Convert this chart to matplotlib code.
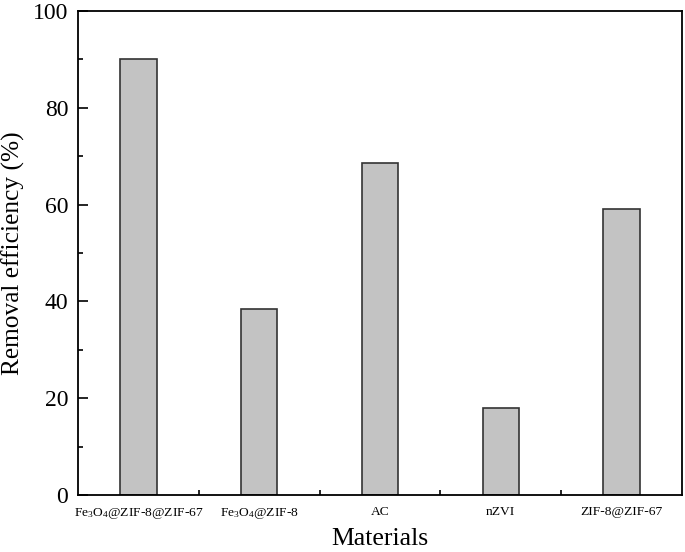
import matplotlib
matplotlib.use("Agg")
import matplotlib.pyplot as plt
from matplotlib.ticker import MultipleLocator, FixedLocator

plt.rcParams['font.family'] = ['Liberation Serif', 'DejaVu Serif']
plt.rcParams['mathtext.fontset'] = 'custom'
plt.rcParams['mathtext.rm'] = 'Liberation Serif'
plt.rcParams['mathtext.it'] = 'Liberation Serif:italic'

materials = ["Fe$_3$O$_4$@ZIF-8@ZIF-67", "Fe$_3$O$_4$@ZIF-8", "AC", "nZVI", "ZIF-8@ZIF-67"]
removal = [90.0, 38.4, 68.5, 18.0, 59.0]

fig = plt.figure(figsize=(6.85, 5.52), dpi=100)
ax = fig.add_axes([0.114, 0.1033, 0.8816, 0.8767])

x = list(range(len(materials)))
ax.bar(x, removal, width=0.3, color='#c3c3c3', edgecolor='#333333', linewidth=1.2, zorder=2)

ax.set_xlim(-0.5, len(materials) - 0.5)
ax.set_ylim(0, 100)
ax.set_xticks(x)
ax.set_xticklabels(materials, fontsize=9.7)
ax.xaxis.set_minor_locator(FixedLocator([i + 0.5 for i in range(len(materials) - 1)]))
ax.yaxis.set_major_locator(MultipleLocator(20))
ax.yaxis.set_minor_locator(MultipleLocator(10))
ax.tick_params(axis='y', which='major', direction='in', length=7, width=1.2, labelsize=17, pad=7)
ax.tick_params(axis='y', which='minor', direction='in', length=3.5, width=1.2)
ax.tick_params(axis='x', which='major', direction='in', length=6, width=1.2, pad=8)
ax.tick_params(axis='x', which='minor', direction='in', length=3.5, width=1.2)
for s in ax.spines.values():
    s.set_linewidth(1.3)

ax.set_xlabel("Materials", fontsize=18.5, labelpad=5)
ax.set_ylabel("Removal efficiency (%)", fontsize=18.3, labelpad=6)

fig.savefig("out.png", dpi=100)
